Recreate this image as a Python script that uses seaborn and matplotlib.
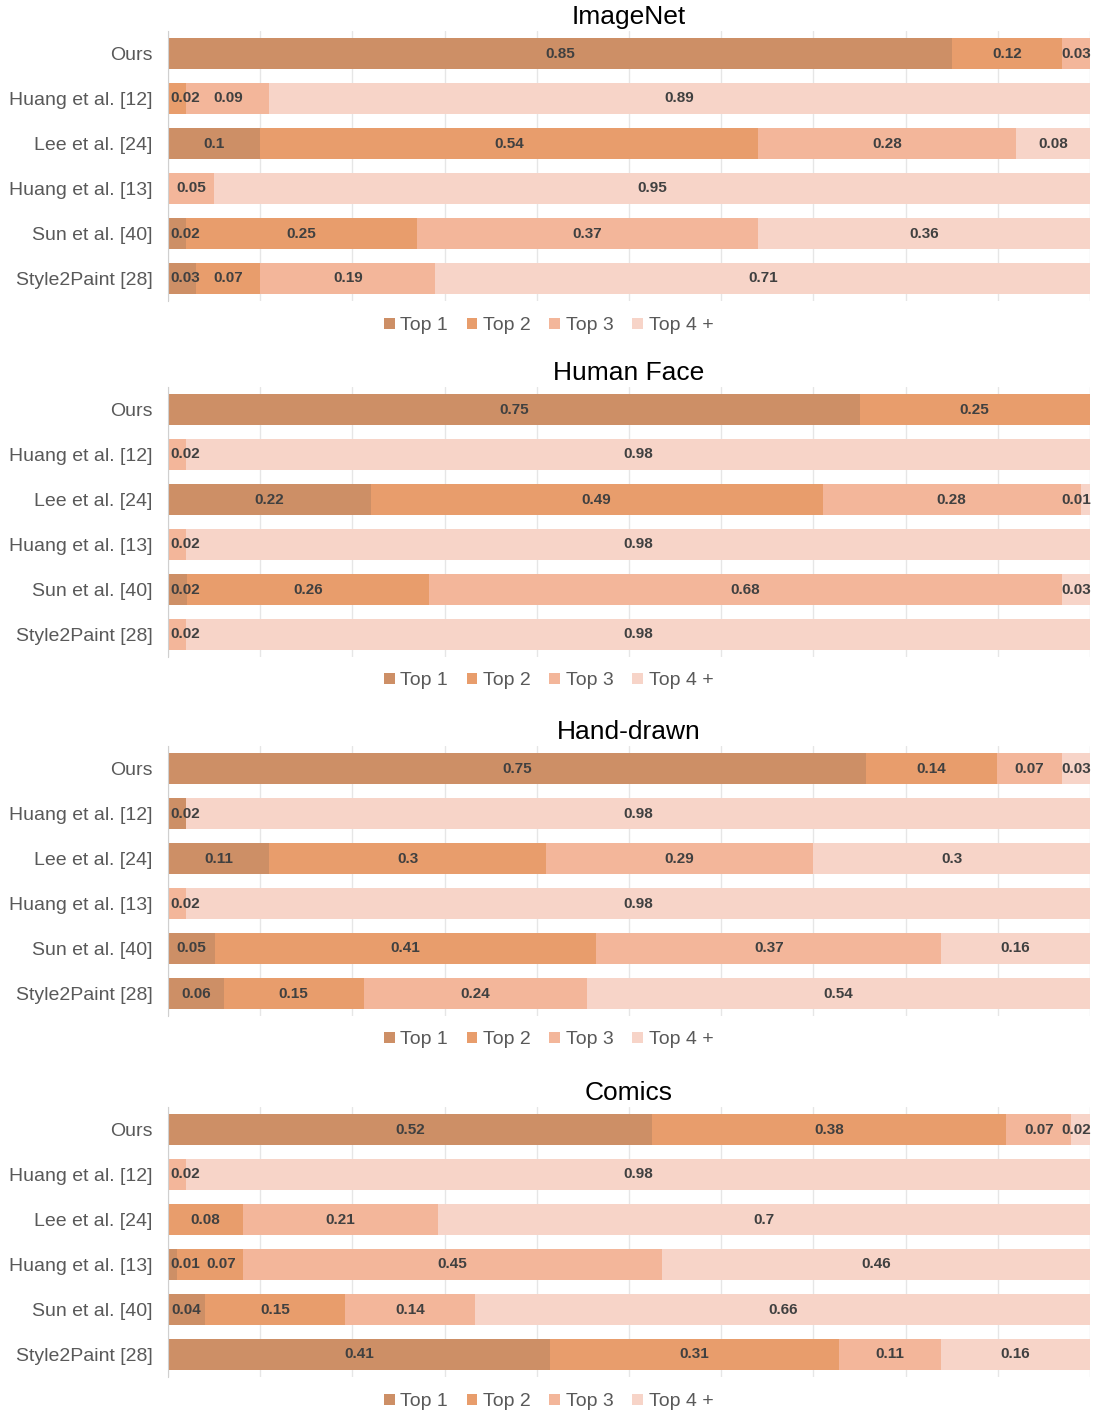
import numpy as np
import pandas as pd
import matplotlib
matplotlib.use("Agg")
import matplotlib.pyplot as plt
import seaborn as sns
from matplotlib.patches import Patch

sns.set_style("white")
plt.rcParams["font.family"] = ["Liberation Sans", "DejaVu Sans"]

methods = ["Ours", "Huang et al. [12]", "Lee et al. [24]", "Huang et al. [13]",
           "Sun et al. [40]", "Style2Paint [28]"]
ranks = ["Top 1", "Top 2", "Top 3", "Top 4 +"]
datasets = ["ImageNet", "Human Face", "Hand-drawn", "Comics"]
rank_colors = ["#CD8F66", "#E89D6C", "#F3B69A", "#F7D4C8"]

imagenet_top1 = [0.85, 0, 0.1, 0, 0.02, 0.03]
imagenet_top2 = [0.12, 0.02, 0.54, 0, 0.25, 0.07]
imagenet_top3 = [0.03, 0.09, 0.28, 0.05, 0.37, 0.19]
imagenet_top4 = [0, 0.89, 0.08, 0.95, 0.36, 0.71]

human_face_top1 = [0.75, 0, 0.22, 0, 0.02, 0]
human_face_top2 = [0.25, 0, 0.49, 0, 0.26, 0]
human_face_top3 = [0, 0.02, 0.28, 0.02, 0.68, 0.02]
human_face_top4 = [0, 0.98, 0.01, 0.98, 0.03, 0.98]

hand_drawn_top1 = [0.75, 0.02, 0.11, 0, 0.05, 0.06]
hand_drawn_top2 = [0.14, 0, 0.3, 0, 0.41, 0.15]
hand_drawn_top3 = [0.07, 0, 0.29, 0.02, 0.37, 0.24]
hand_drawn_top4 = [0.03, 0.98, 0.3, 0.98, 0.16, 0.54]

comics_top1 = [0.52, 0, 0, 0.01, 0.04, 0.41]
comics_top2 = [0.38, 0, 0.08, 0.07, 0.15, 0.31]
comics_top3 = [0.07, 0.02, 0.21, 0.45, 0.14, 0.11]
comics_top4 = [0.02, 0.98, 0.7, 0.46, 0.66, 0.16]

all_data = {
    "ImageNet": [imagenet_top1, imagenet_top2, imagenet_top3, imagenet_top4],
    "Human Face": [human_face_top1, human_face_top2, human_face_top3, human_face_top4],
    "Hand-drawn": [hand_drawn_top1, hand_drawn_top2, hand_drawn_top3, hand_drawn_top4],
    "Comics": [comics_top1, comics_top2, comics_top3, comics_top4],
}

W, H = 1095, 1414
axes_px = [(31, 301), (387, 657), (746, 1016), (1107, 1377)]
legend_px = [326, 681, 1040, 1402]
left_px, right_px = 168, 1090


def draw_panel(ax, name, series):
    vals = np.array(series).T  # rows = methods, cols = ranks
    shares = vals / vals.sum(axis=1, keepdims=True)
    cum = np.cumsum(shares, axis=1)

    ax.xaxis.grid(True, color="#e6e6e6", linewidth=1)
    ax.set_axisbelow(True)

    # overlapping cumulative bars, widest first
    for k in range(len(ranks) - 1, -1, -1):
        df = pd.DataFrame({"method": methods, "cum": cum[:, k]})
        sns.barplot(data=df, x="cum", y="method", order=methods, orient="h",
                    color=rank_colors[k], saturation=1, width=0.67,
                    errorbar=None, linewidth=0, ax=ax)

    # segment labels, nudged apart so small segments don't collide
    for i in range(len(methods)):
        prev = -1.0
        for k in range(len(ranks)):
            v = vals[i, k]
            if v <= 0:
                continue
            start = cum[i, k] - shares[i, k]
            end = min(cum[i, k], 1.0)
            xc = max((start + end) / 2, 0.019, prev + 0.039)
            xc = min(xc, 0.985)
            prev = xc
            ax.text(xc, i, f"{v:g}", ha="center", va="center",
                    fontsize=11, fontweight="bold", color="#404040")

    ax.set_xlim(0, 1)
    ax.set_ylim(5.5, -0.5)
    ax.set_xticks(np.arange(0, 1.01, 0.1))
    ax.set_xticklabels([])
    ax.set_xlabel("")
    ax.set_ylabel("")
    ax.set_yticks(np.arange(-0.5, 6, 1), minor=True)
    ax.tick_params(axis="x", length=0)
    ax.tick_params(axis="y", which="major", length=0, pad=11,
                   labelsize=14, labelcolor="#595959")
    ax.tick_params(axis="y", which="minor", length=6, color="#d0d0d0", width=1)
    for s in ["top", "right", "bottom"]:
        ax.spines[s].set_visible(False)
    ax.spines["left"].set_color("#d0d0d0")
    ax.set_title(name, fontsize=19, color="black", pad=5)


fig = plt.figure(figsize=(W / 100, H / 100), dpi=100)
handles = [Patch(facecolor=c, edgecolor="none", label=r) for c, r in zip(rank_colors, ranks)]

for name, (top, bottom), ly in zip(datasets, axes_px, legend_px):
    ax = fig.add_axes([left_px / W, 1 - bottom / H, (right_px - left_px) / W, (bottom - top) / H])
    draw_panel(ax, name, all_data[name])
    leg = fig.legend(handles=handles, loc="center", bbox_to_anchor=(0.501, 1 - ly / H),
                     ncol=4, frameon=False, fontsize=14, handlelength=0.55,
                     handleheight=0.55, handletextpad=0.3, columnspacing=0.95,
                     borderaxespad=0, borderpad=0)
    for t in leg.get_texts():
        t.set_color("#595959")

fig.savefig("out.png", dpi=100)
